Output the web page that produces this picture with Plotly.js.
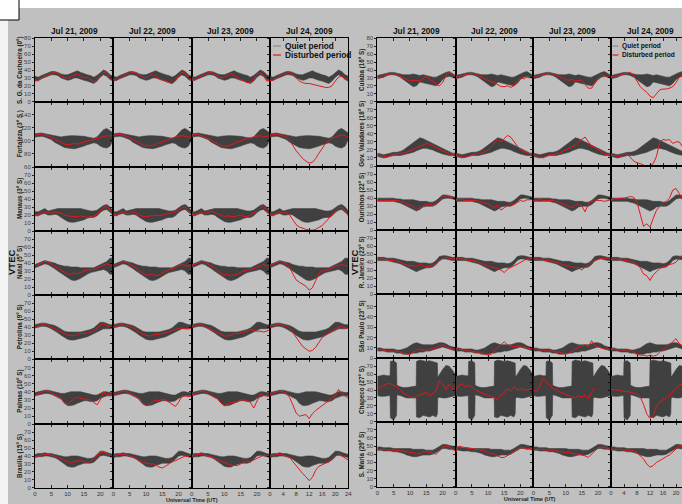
<!DOCTYPE html>
<html><head><meta charset="utf-8">
<script src="https://cdn.plot.ly/plotly-3.0.1.min.js"></script>
<style>html,body{margin:0;padding:0;background:#c0c0c0}#chart{width:682px;height:504px}</style>
</head><body><div id="chart"></div>
<script>
// ---------------- DATA ----------------
const hours = [0,1,2,3,4,5,6,7,8,9,10,11,12,13,14,15,16,17,18,19,20,21,22,23,24];
const dayLabels = ["Jul 21, 2009","Jul 22, 2009","Jul 23, 2009","Jul 24, 2009"];
const seriesNames = ["Quiet period","Disturbed period"];
const xTitle = "Universal Time (UT)";
const yTitle = "VTEC";
const ticks0to80 = [0,10,20,30,40,50,60,70,80];
const ticks0to70 = [0,10,20,30,40,50,60,70];
const ticksFortaleza = [60,80,100,120,140];
const ticksSaoPaulo = [0,10,20,30,40,50];
const ticksDay = [0,5,10,15,20];
const ticksLastDay = [0,4,8,12,16,20,24];

// S. G. da Cachoeira (0°)
const sgcQuietLo = [26,27,29,31,33,34,34,33,30,28,27,28,30,30,28,27,26,24,23,26,31,34,32,28,26];
const sgcQuietHi = [32,31,33,35,37,38,38,37,35,34,34,36,38,39,37,35,34,33,31,33,37,40,38,34,32];
const sgcJul21 = [28,26,30,32,35,36,37,36,33,30,30,32,34,35,32,30,31,28,25,28,33,37,36,30,28];
const sgcJul22 = [28,27,30,33,35,36,37,36,33,31,30,33,34,33,29,27,26,24,23,27,33,37,36,31,28];
const sgcJul23 = [27,28,31,33,35,36,37,35,33,30,31,33,35,33,30,28,26,24,24,28,34,37,33,26,27];
const sgcJul24 = [27,27,30,33,35,36,37,35,30,26,24,23,23,22,21,20,19,18,18,20,26,31,32,29,27];

// Fortaleza (3° S)
const forQuietLo = [106,107,107,106,104,102,98,95,92,90,89,88,88,89,90,92,94,96,97,96,92,90,89,92,102];
const forQuietHi = [111,112,112,111,110,109,107,106,106,107,108,108,108,108,108,107,106,105,104,106,112,117,119,116,112];
const forJul21 = [108,110,110,109,108,106,103,100,97,95,94,95,96,95,97,99,100,101,102,103,105,107,108,108,107];
const forJul22 = [108,110,110,109,107,105,102,99,96,94,93,92,93,95,97,99,101,103,104,106,107,108,107,106,108];
const forJul23 = [108,110,110,108,106,104,101,98,95,93,92,92,94,96,99,100,102,104,105,106,107,108,106,107,108];
const forJul24 = [109,110,110,109,108,106,101,92,85,79,73,69,66,67,73,81,89,96,100,104,106,108,109,108,105];

// Manaus (3° S)
const manQuietLo = [19,19,21,22,20,20,21,20,17,14,12,11,11,12,13,14,16,17,17,19,23,26,27,24,20];
const manQuietHi = [24,24,26,28,25,26,27,28,28,28,28,28,28,28,28,27,26,25,25,26,29,32,33,30,25];
const manJul21 = [20,21,22,24,23,22,24,23,22,20,19,18,18,18,19,18,17,18,18,21,25,29,31,26,20];
const manJul22 = [21,20,23,24,22,22,24,23,20,18,18,19,19,20,19,20,21,22,23,24,26,29,30,24,21];
const manJul23 = [21,21,22,24,22,23,25,23,21,19,18,19,18,18,19,20,18,18,20,22,25,29,31,25,20];
const manJul24 = [20,21,22,24,22,23,20,14,8,5,3,2,1,1,2,4,7,11,15,20,25,29,30,26,19];

// Natal (5° S)
const natQuietLo = [34,36,38,39,38,36,33,30,27,24,21,19,18,19,21,24,26,28,29,30,31,32,30,26,26];
const natQuietHi = [38,40,42,43,42,41,40,38,37,36,36,35,35,35,34,34,34,34,34,36,38,40,42,46,46];
const natJul21 = [36,38,40,42,41,39,37,34,31,28,26,26,27,27,28,30,31,32,32,34,36,38,39,37,38];
const natJul22 = [36,38,40,42,41,39,37,34,30,27,25,25,26,24,25,28,30,31,33,34,36,38,37,36,38];
const natJul23 = [37,39,41,42,41,39,37,34,30,27,25,26,24,25,27,28,30,31,32,33,35,37,38,36,37];
const natJul24 = [37,39,41,42,41,39,34,26,19,16,14,11,6,9,18,27,30,31,32,34,36,37,38,37,36];

// Petrolina (9° S)
const petQuietLo = [39,40,41,41,40,38,36,33,30,27,25,24,24,25,26,27,28,30,32,35,37,38,38,38,39];
const petQuietHi = [43,44,45,45,44,43,42,40,37,35,34,34,34,34,34,35,36,37,39,43,46,46,44,43,43];
const petJul21 = [40,42,43,43,42,40,38,36,33,31,30,30,29,31,32,32,33,33,35,38,43,44,42,40,40];
const petJul22 = [40,42,43,43,42,41,39,36,33,31,30,29,30,31,31,32,33,34,36,37,38,39,38,38,38];
const petJul23 = [41,42,43,43,41,39,37,35,32,30,29,29,30,32,32,33,34,35,37,36,35,35,34,35,37];
const petJul24 = [41,42,43,43,42,41,39,33,27,21,16,13,10,11,15,21,27,30,33,36,38,40,41,39,38];

// Palmas (10° S)
const palQuietLo = [35,36,37,38,38,37,35,33,31,26,23,23,24,26,28,29,29,28,28,29,32,34,35,35,35];
const palQuietHi = [39,40,41,42,42,41,40,39,38,38,39,40,40,40,40,39,38,37,36,36,38,40,40,39,39];
const palJul21 = [36,38,40,41,41,39,37,35,32,27,25,28,32,33,32,31,31,30,27,24,30,40,37,36,36];
const palJul22 = [36,38,40,41,40,38,37,34,30,25,23,24,28,30,29,31,30,27,25,22,27,35,35,34,35];
const palJul23 = [36,38,40,41,40,38,36,34,31,26,23,25,27,27,28,30,30,29,27,20,28,37,36,35,34];
const palJul24 = [37,39,40,41,40,38,33,24,14,10,11,12,7,13,17,20,22,26,29,32,35,43,38,35,32];

// Brasilia (15° S)
const braQuietLo = [38,39,39,40,40,39,38,36,33,29,27,26,26,28,30,31,31,31,32,36,40,41,40,39,38];
const braQuietHi = [42,43,43,44,43,43,42,41,40,39,39,40,40,40,39,38,37,37,38,42,46,46,44,43,42];
const braJul21 = [39,40,41,42,42,41,40,38,36,34,32,31,33,34,34,33,32,33,36,40,44,45,43,40,39];
const braJul22 = [40,41,42,42,41,40,39,37,34,32,31,30,30,29,26,25,27,30,33,34,36,38,40,39,40];
const braJul23 = [40,41,42,42,41,40,39,37,35,33,31,30,29,28,28,30,32,34,33,35,38,40,41,40,39];
const braJul24 = [40,41,42,42,41,40,38,33,27,22,18,14,9,13,22,27,29,30,32,35,39,43,40,37,35];

// Cuiaba (16° S)
const cuiQuietLo = [29,30,31,33,34,34,33,31,28,24,21,19,20,25,24,23,22,21,20,23,28,31,32,31,29];
const cuiQuietHi = [33,34,35,36,37,37,36,35,34,34,34,35,34,33,34,33,32,31,31,33,36,37,38,36,33];
const cuiJul21 = [31,31,33,34,35,36,34,32,30,28,26,27,27,26,29,32,28,26,22,20,24,33,37,35,32];
const cuiJul22 = [31,32,33,34,35,36,35,33,31,29,26,25,24,22,19,19,20,18,20,26,30,29,31,30,31];
const cuiJul23 = [31,32,33,34,35,36,35,33,31,30,28,27,28,26,27,27,22,17,17,24,30,34,33,31,32];
const cuiJul24 = [31,32,33,34,35,36,37,33,26,19,15,12,7,5,10,15,16,16,17,19,24,31,34,33,32];

// Gov. Valadares (18° S)
const gvaQuietLo = [12,11,10,11,12,13,13,13,14,15,16,17,19,21,22,22,21,20,18,16,15,14,13,13,12];
const gvaQuietHi = [16,15,14,15,16,17,17,18,20,23,27,30,33,35,34,32,30,28,26,24,21,19,17,16,16];
const gvaJul21 = [14,13,12,11,13,15,15,16,16,17,19,21,22,24,26,28,27,25,23,21,19,17,15,14,14];
const gvaJul22 = [14,12,11,11,12,14,15,16,16,18,20,24,28,33,30,34,38,36,30,25,20,18,16,15,14];
const gvaJul23 = [14,12,11,10,12,14,14,15,16,18,20,22,24,26,30,33,36,30,25,23,20,17,15,14,14];
const gvaJul24 = [14,13,12,12,15,15,11,6,4,3,1,0,1,3,12,30,33,32,33,28,30,30,24,22,20];

// Ourinhos (22° S)
const ouQuietLo = [36,36,36,36,36,36,35,34,32,30,28,26,24,26,29,30,30,30,32,36,39,40,40,39,38];
const ouQuietHi = [40,40,40,40,40,40,39,39,38,38,38,38,37,36,36,36,35,35,37,41,44,44,43,42,41];
const ouJul21 = [37,37,38,37,37,37,37,36,35,33,31,30,26,28,30,32,32,31,33,36,42,43,42,40,38];
const ouJul22 = [38,38,38,37,37,37,37,36,35,34,33,30,28,31,25,28,31,33,32,35,37,36,38,38,39];
const ouJul23 = [37,37,38,37,37,37,37,36,35,33,31,30,28,31,33,30,23,33,35,38,37,37,36,37,38];
const ouJul24 = [38,39,39,40,40,41,42,41,35,20,5,8,4,15,25,30,34,36,40,50,52,46,38,40,42];

// R. Janeiro (23° S)
const rjQuietLo = [42,42,42,42,41,40,39,38,36,34,31,29,28,30,32,33,33,34,37,42,44,44,43,42,42];
const rjQuietHi = [46,46,46,45,45,45,44,43,42,41,41,41,40,39,39,39,38,39,42,47,48,48,47,46,46];
const rjJul21 = [43,44,44,43,42,42,41,40,38,36,35,36,34,38,35,34,35,36,38,42,45,46,45,44,44];
const rjJul22 = [44,44,44,43,42,42,41,40,38,37,35,34,33,32,30,27,31,33,36,37,40,42,44,44,45];
const rjJul23 = [44,44,44,43,42,42,41,40,39,37,36,35,34,33,33,30,34,36,40,42,44,45,45,45,45];
const rjJul24 = [43,44,44,43,42,42,41,40,37,33,25,23,17,24,28,32,34,35,37,38,40,44,49,45,45];

// São Paulo (23° S)
const spQuietLo = [7,7,7,6,6,6,5,5,4,4,4,5,5,6,6,7,7,8,9,10,11,10,9,8,7];
const spQuietHi = [10,10,9,9,9,9,8,8,9,10,12,14,15,14,13,13,13,13,14,15,15,14,12,11,10];
const spJul21 = [9,8,8,7,7,7,7,6,5,4,4,6,8,9,8,8,9,9,10,12,13,11,10,9,9];
const spJul22 = [9,9,8,8,7,7,6,6,5,4,3,4,7,10,14,16,13,12,11,12,11,11,10,9,9];
const spJul23 = [9,9,8,8,7,7,7,6,6,5,4,5,7,9,11,12,13,11,17,12,11,10,9,9,9];
const spJul24 = [9,9,8,8,8,8,8,6,4,3,3,2,3,2,3,6,9,11,13,16,19,14,12,12,11];

// Chapeco (27° S) - quiet band read on its own time grid
const chaQuietHours = [0,1,2,3,3.9,4.0,5.0,5.9,6.0,7,8,9,10,11,11.9,12.0,13,14,15,16,17,18,18.4,18.5,19,20,21,22,23,24];
const chaQuietLo = [33,32,32,33,33,5,2,8,34,33,31,30,30,30,30,6,5,8,7,6,8,6,10,30,31,30,30,31,32,33];
const chaQuietHi = [57,58,59,58,58,76,77,74,46,44,43,43,44,45,45,76,78,77,76,77,76,75,74,56,60,66,71,70,65,58];
const chaJul21 = [40,44,46,48,48,46,44,40,36,34,32,30,32,34,35,37,33,35,40,52,48,40,47,42,40];
const chaJul22 = [40,46,48,44,46,44,40,38,36,35,33,32,30,28,34,36,42,38,44,40,42,40,40,41,40];
const chaJul23 = [40,38,45,55,50,46,42,40,38,36,34,33,31,30,33,31,34,29,38,42,null,null,null,null,null];
const chaJul24 = [41,40,40,39,38,38,37,36,35,31,22,10,4,8,20,25,27,30,33,38,42,46,48,50,45];

// S. Maria (29° S)
const smQuietLo = [45,45,44,44,44,43,43,42,41,39,38,37,37,38,39,39,39,40,42,45,47,47,46,46,45];
const smQuietHi = [49,49,48,48,48,47,47,47,47,47,47,46,46,46,46,45,45,45,47,50,52,52,51,50,49];
const smJul21 = [45,46,46,45,45,45,45,44,44,43,42,42,40,41,43,43,42,41,40,44,48,50,49,46,44];
const smJul22 = [42,50,49,48,47,47,46,46,45,44,42,41,40,38,36,36,38,40,43,46,48,48,47,47,47];
const smJul23 = [45,46,46,46,45,45,45,44,43,43,42,42,41,40,40,39,38,36,40,45,48,49,48,47,46];
const smJul24 = [45,46,46,46,45,45,45,44,42,38,34,28,24,26,30,32,35,37,39,43,47,50,49,48,48];

const stations = [
  [ // left panel
    {label:"S. G. da Cachoeira (0°)", qx:hours, lo:sgcQuietLo, hi:sgcQuietHi, days:[sgcJul21,sgcJul22,sgcJul23,sgcJul24], range:[0,80], ticks:ticks0to80},
    {label:"Fortaleza (3° S )", qx:hours, lo:forQuietLo, hi:forQuietHi, days:[forJul21,forJul22,forJul23,forJul24], range:[60,160], ticks:ticksFortaleza},
    {label:"Manaus (3° S)", qx:hours, lo:manQuietLo, hi:manQuietHi, days:[manJul21,manJul22,manJul23,manJul24], range:[0,80], ticks:ticks0to70},
    {label:"Natal (5° S)", qx:hours, lo:natQuietLo, hi:natQuietHi, days:[natJul21,natJul22,natJul23,natJul24], range:[0,80], ticks:ticks0to70},
    {label:"Petrolina (9° S)", qx:hours, lo:petQuietLo, hi:petQuietHi, days:[petJul21,petJul22,petJul23,petJul24], range:[0,80], ticks:ticks0to70},
    {label:"Palmas (10° S)", qx:hours, lo:palQuietLo, hi:palQuietHi, days:[palJul21,palJul22,palJul23,palJul24], range:[0,80], ticks:ticks0to70},
    {label:"Brasilia (15° S)", qx:hours, lo:braQuietLo, hi:braQuietHi, days:[braJul21,braJul22,braJul23,braJul24], range:[0,80], ticks:ticks0to70}
  ],
  [ // right panel
    {label:"Cuiaba (16° S)", qx:hours, lo:cuiQuietLo, hi:cuiQuietHi, days:[cuiJul21,cuiJul22,cuiJul23,cuiJul24], range:[0,80], ticks:ticks0to80},
    {label:"Gov. Valadares (18° S)", qx:hours, lo:gvaQuietLo, hi:gvaQuietHi, days:[gvaJul21,gvaJul22,gvaJul23,gvaJul24], range:[0,80], ticks:ticks0to70},
    {label:"Ourinhos (22° S)", qx:hours, lo:ouQuietLo, hi:ouQuietHi, days:[ouJul21,ouJul22,ouJul23,ouJul24], range:[0,80], ticks:ticks0to70},
    {label:"R. Janeiro (23° S)", qx:hours, lo:rjQuietLo, hi:rjQuietHi, days:[rjJul21,rjJul22,rjJul23,rjJul24], range:[0,80], ticks:ticks0to70},
    {label:"São Paulo (23° S)", qx:hours, lo:spQuietLo, hi:spQuietHi, days:[spJul21,spJul22,spJul23,spJul24], range:[0,62], ticks:ticksSaoPaulo},
    {label:"Chapeco (27° S)", qx:chaQuietHours, lo:chaQuietLo, hi:chaQuietHi, days:[chaJul21,chaJul22,chaJul23,chaJul24], range:[0,80], ticks:ticks0to70},
    {label:"S. Maria (29° S)", qx:hours, lo:smQuietLo, hi:smQuietHi, days:[smJul21,smJul22,smJul23,smJul24], range:[0,80], ticks:ticks0to70}
  ]
];

// ---------------- LAYOUT ----------------
const W = 682, H = 504;
const colEdges = [[35,113.3,191.7,270,348.3],[377.3,455.7,533.3,611,689]];
const rowEdges = [[38.3,101.7,167,231,295,359.3,424.3,487.7],[38.3,101.7,166,230.3,294,358.3,421.7,486.7]];
const BG = '#c0c0c0', BAND = '#404040', RED = '#e3171c', QUIETKEY = '#8a8a8a';
const FONT = 'Liberation Sans, Arial, sans-serif';
const fx = p => p / W, fy = p => 1 - p / H;

const traces = [];
const layout = {
  width: W, height: H, margin:{l:0,r:0,t:0,b:0},
  paper_bgcolor: BG, plot_bgcolor: 'rgba(0,0,0,0)', showlegend: false,
  font:{family:FONT, color:'#222'},
  annotations: [], shapes: []
};

let k = 0;
for (let p = 0; p < 2; p++) {
  for (let r = 0; r < 7; r++) {
    const st = stations[p][r];
    for (let c = 0; c < 4; c++) {
      k++;
      const xs = k === 1 ? '' : String(k);
      let x0 = colEdges[p][c], x1 = colEdges[p][c+1];
      let xr = [0, 24];
      if (x1 > W) { xr = [0, 24 * (W - x0) / (x1 - x0)]; x1 = W; }
      const y0 = rowEdges[p][r], y1 = rowEdges[p][r+1];
      layout['xaxis' + xs] = {
        domain:[fx(x0), fx(x1)], range:xr, anchor:'y'+xs,
        tickmode:'array', tickvals: c === 3 ? ticksLastDay : ticksDay,
        ticks:'inside', ticklen:3, tickwidth:0.8, tickcolor:'#000',
        showticklabels: r === 6, tickfont:{size:6, color:'#333', family:FONT},
        showline:true, linecolor:'#000', linewidth:1, mirror:'ticks',
        showgrid:false, zeroline:false, fixedrange:true
      };
      layout['yaxis' + xs] = {
        domain:[fy(y1), fy(y0)], range:st.range, anchor:'x'+xs,
        tickmode:'array', tickvals:st.ticks,
        ticks:'outside', ticklen:2, tickwidth:0.8, tickcolor:'#000',
        showticklabels: c === 0, tickfont:{size:6, color:'#444', family:FONT},
        showline:true, linecolor:'#000', linewidth:1, mirror:true,
        showgrid:false, zeroline:false, fixedrange:true
      };
      traces.push({x:st.qx, y:st.lo, xaxis:'x'+xs, yaxis:'y'+xs, mode:'lines',
        line:{color:BAND, width:0.6}, showlegend:false, hoverinfo:'skip', name:seriesNames[0]});
      traces.push({x:st.qx, y:st.hi, xaxis:'x'+xs, yaxis:'y'+xs, mode:'lines', fill:'tonexty',
        fillcolor:BAND, line:{color:BAND, width:0.6}, showlegend:false, hoverinfo:'skip', name:seriesNames[0]});
      traces.push({x:hours, y:st.days[c], xaxis:'x'+xs, yaxis:'y'+xs, mode:'lines',
        line:{color:RED, width:1}, showlegend:false, connectgaps:false, name:seriesNames[1]});
    }
    // station label
    layout.annotations.push({
      text:'<b>' + st.label + '</b>', xref:'paper', yref:'paper',
      x: fx(p === 0 ? 20 : 362), y: fy((rowEdges[p][r] + rowEdges[p][r+1]) / 2),
      textangle:-90, showarrow:false, font:{size:6.3, color:'#222', family:FONT},
      xanchor:'center', yanchor:'middle'
    });
  }
  // day titles
  for (let c = 0; c < 4; c++) {
    layout.annotations.push({
      text:'<b>' + dayLabels[c] + '</b>', xref:'paper', yref:'paper',
      x: fx((colEdges[p][c] + colEdges[p][c+1]) / 2), y: fy(31),
      showarrow:false, font:{size:8.3, color:'#111', family:FONT}, xanchor:'center', yanchor:'middle'
    });
  }
  layout.annotations.push({
    text:'<b>' + yTitle + '</b>', xref:'paper', yref:'paper', x: fx(p === 0 ? 11 : 354), y: fy(263),
    textangle:-90, showarrow:false, font:{size:9.5, color:'#111', family:FONT}, xanchor:'center', yanchor:'middle'
  });
  // panel-wide time axis title, carried by an invisible axis spanning the panel width
  const n = 57 + p;
  const botRow = rowEdges[p];
  const spanEnd = colEdges[p][0] + 2 * (colEdges[p][2] - colEdges[p][0]);
  layout['xaxis' + n] = {
    domain:[fx(colEdges[p][0]), fx(Math.min(spanEnd, W))],
    anchor:'y' + n, range:[0,1], showline:false, ticks:'', showticklabels:false, showgrid:false, zeroline:false,
    fixedrange:true, automargin:false,
    title:{text:'<b>' + xTitle + '</b>', font:{size:5.5, color:'#222', family:FONT}, standoff:0}
  };
  layout['yaxis' + n] = {
    domain:[fy(botRow[7] + 9.8), fy(botRow[6])], anchor:'x' + n, range:[0,1], visible:false, fixedrange:true
  };
  traces.push({x:[null], y:[null], xaxis:'x' + n, yaxis:'y' + n, mode:'lines', showlegend:false, hoverinfo:'skip'});
  // legend (key lines + labels) in the Jul 24 panel of the top row
  const keyX = colEdges[p][3] + (p === 0 ? 3 : 1.5);
  const keySize = p === 0 ? 8.3 : 6.6;
  const keyRows = [46, 55];
  const keyColors = [QUIETKEY, RED];
  for (let i = 0; i < 2; i++) {
    layout.shapes.push({type:'line', xref:'paper', yref:'paper', x0:fx(keyX), x1:fx(keyX + (p === 0 ? 8 : 6)),
      y0:fy(keyRows[i]), y1:fy(keyRows[i]), line:{color:keyColors[i], width:1.2}});
    layout.annotations.push({
      text:'<b>' + seriesNames[i] + '</b>', xref:'paper', yref:'paper',
      x: fx(keyX + (p === 0 ? 10 : 7)), y: fy(keyRows[i]), showarrow:false, xanchor:'left', yanchor:'middle',
      font:{size:keySize, color:'#111', family:FONT}
    });
  }
}

// page frame decorations
layout.shapes.push({type:'rect', xref:'paper', yref:'paper', x0:0, x1:1, y0:fy(8), y1:1, fillcolor:'#ffffff', line:{width:0}, layer:'below'});
layout.shapes.push({type:'rect', xref:'paper', yref:'paper', x0:0, x1:fx(8), y0:0, y1:1, fillcolor:'#f4f4f4', line:{width:0}, layer:'below'});
layout.shapes.push({type:'rect', xref:'paper', yref:'paper', x0:0, x1:fx(19), y0:fy(20), y1:1, fillcolor:'#ffffff', line:{width:0}, layer:'below'});
layout.shapes.push({type:'line', xref:'paper', yref:'paper', x0:fx(19), x1:fx(19), y0:fy(20), y1:1, line:{color:'#000', width:1}});
layout.shapes.push({type:'line', xref:'paper', yref:'paper', x0:0, x1:fx(19), y0:fy(20), y1:fy(20), line:{color:'#000', width:1}});

Plotly.newPlot('chart', traces, layout, {staticPlot:true, displayModeBar:false});
</script></body></html>
